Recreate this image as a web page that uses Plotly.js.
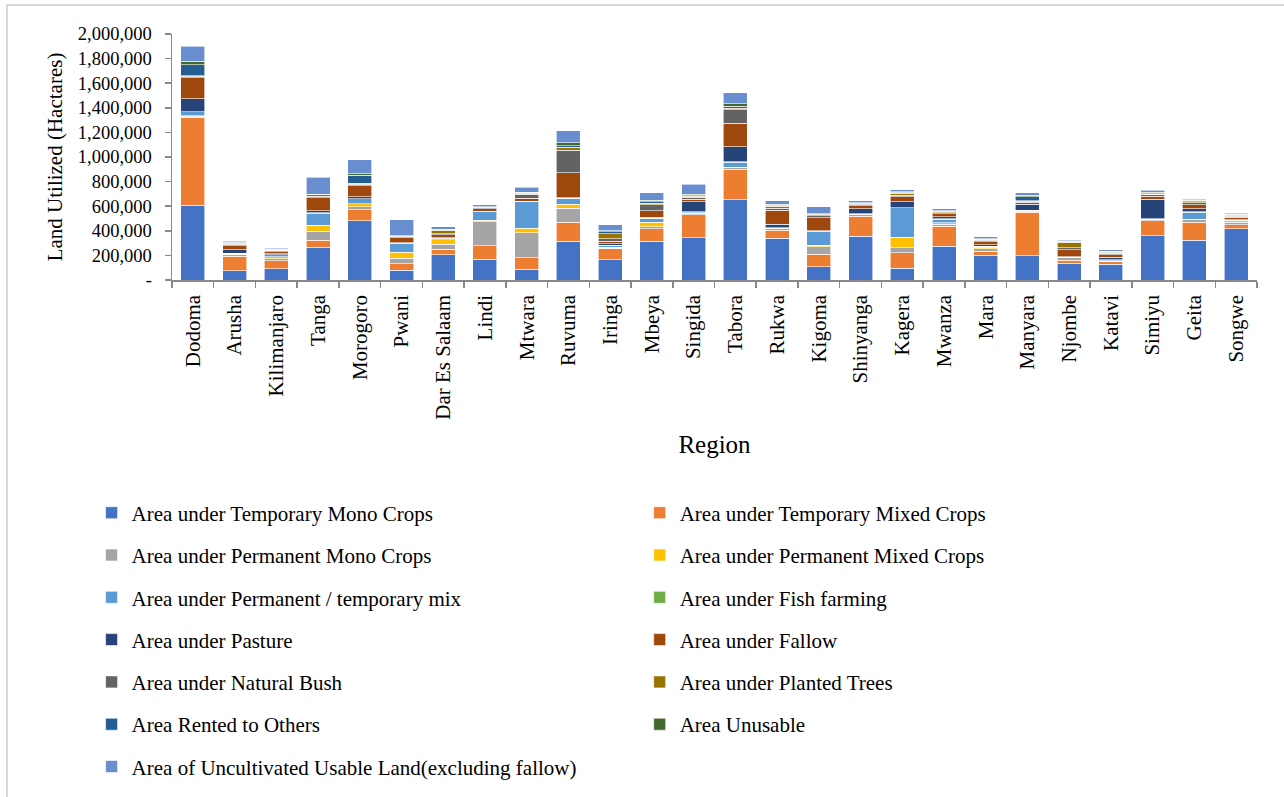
<!DOCTYPE html>
<html>
<head>
<meta charset="utf-8">
<script src="https://cdn.plot.ly/plotly-3.0.1.min.js"></script>
<style>
  html, body { margin: 0; padding: 0; background: #ffffff; overflow: hidden; }
  #wrap { position: relative; width: 1284px; height: 797px; }
  #chart { width: 1284px; height: 797px; }
  #frame { position: absolute; left: 6px; top: 4px; width: 1300px; height: 820px;
           border-left: 2px solid #d9d9d9; border-top: 2px solid #d9d9d9; pointer-events: none; }
</style>
</head>
<body>
<div id="wrap">
  <div id="chart"></div>
  <div id="frame"></div>
</div>
<script>
const regions = ["Dodoma", "Arusha", "Kilimanjaro", "Tanga", "Morogoro", "Pwani", "Dar Es Salaam", "Lindi", "Mtwara", "Ruvuma", "Iringa", "Mbeya", "Singida", "Tabora", "Rukwa", "Kigoma", "Shinyanga", "Kagera", "Mwanza", "Mara", "Manyara", "Njombe", "Katavi", "Simiyu", "Geita", "Songwe"];

const seriesNames = [
  "Area under Temporary Mono Crops",
  "Area under Temporary Mixed Crops",
  "Area under Permanent Mono Crops",
  "Area under Permanent Mixed Crops",
  "Area under Permanent / temporary mix",
  "Area under Fish farming",
  "Area under Pasture",
  "Area under Fallow",
  "Area under Natural Bush",
  "Area under Planted Trees",
  "Area Rented to Others",
  "Area Unusable",
  "Area of Uncultivated Usable Land(excluding fallow)"
];

const tempMono     = [608000, 76000, 92000, 268000, 481000, 81000, 205000, 170000, 86000, 314000, 165000, 316000, 343000, 651000, 341000, 108000, 357000, 97000, 276000, 203000, 197000, 138000, 127000, 359000, 322000, 416000];
const tempMixed    = [714000, 119000, 65000, 54000, 92000, 51000, 46000, 108000, 95000, 157000, 89000, 100000, 186000, 249000, 65000, 103000, 162000, 124000, 162000, 32000, 354000, 22000, 24000, 124000, 146000, 35000];
const permMono     = [10000, 11000, 16000, 76000, 24000, 46000, 38000, 195000, 203000, 114000, 3000, 16000, 14000, 14000, 11000, 59000, 14000, 41000, 16000, 19000, 8000, 19000, 3000, 8000, 22000, 19000];
const permMixed    = [5000, 3000, 16000, 46000, 24000, 46000, 38000, 14000, 38000, 32000, 8000, 38000, 3000, 3000, 3000, 11000, 3000, 84000, 11000, 11000, 3000, 3000, 3000, 3000, 3000, 11000];
const permTempMix  = [30000, 8000, 16000, 100000, 38000, 76000, 14000, 68000, 216000, 46000, 16000, 30000, 8000, 41000, 3000, 116000, 3000, 241000, 30000, 8000, 3000, 3000, 8000, 3000, 59000, 5000];
const fishFarming  = [2000, 1000, 1000, 2000, 2000, 1000, 1000, 1000, 1000, 2000, 1000, 2000, 1000, 2000, 1000, 2000, 1000, 2000, 2000, 1000, 1000, 1000, 1000, 1000, 2000, 1000];
const pasture      = [103000, 30000, 8000, 16000, 14000, 3000, 3000, 3000, 3000, 3000, 11000, 8000, 81000, 124000, 30000, 3000, 41000, 46000, 16000, 14000, 49000, 5000, 19000, 159000, 27000, 3000];
const fallow       = [173000, 32000, 16000, 108000, 92000, 38000, 22000, 19000, 22000, 205000, 22000, 54000, 19000, 189000, 114000, 105000, 24000, 41000, 24000, 24000, 19000, 57000, 22000, 24000, 32000, 22000];
const naturalBush  = [11000, 11000, 8000, 11000, 11000, 8000, 11000, 8000, 35000, 181000, 19000, 46000, 16000, 111000, 16000, 16000, 11000, 14000, 11000, 11000, 8000, 14000, 11000, 14000, 14000, 8000];
const plantedTrees = [5000, 8000, 5000, 11000, 8000, 3000, 27000, 3000, 8000, 27000, 43000, 14000, 11000, 11000, 14000, 11000, 8000, 14000, 5000, 5000, 3000, 46000, 8000, 3000, 8000, 8000];
const rented       = [89000, 8000, 3000, 3000, 65000, 3000, 3000, 3000, 3000, 11000, 14000, 14000, 3000, 16000, 11000, 3000, 3000, 11000, 8000, 3000, 30000, 3000, 3000, 3000, 11000, 3000];
const unusable     = [27000, 3000, 3000, 3000, 11000, 3000, 3000, 3000, 3000, 22000, 11000, 11000, 11000, 22000, 5000, 3000, 3000, 3000, 3000, 3000, 14000, 3000, 3000, 11000, 3000, 3000];
const uncultivated = [122000, 11000, 8000, 138000, 114000, 130000, 24000, 16000, 41000, 100000, 46000, 62000, 84000, 89000, 32000, 57000, 16000, 16000, 14000, 16000, 22000, 8000, 14000, 16000, 8000, 8000];

const seriesValues = [tempMono, tempMixed, permMono, permMixed, permTempMix, fishFarming, pasture, fallow, naturalBush, plantedTrees, rented, unusable, uncultivated];
const seriesColors = ["#4472C4", "#ED7D31", "#A5A5A5", "#FFC000", "#5B9BD5", "#70AD47", "#264478", "#9E480E", "#636363", "#997300", "#255E91", "#43682B", "#698ED0"];

const yTickVals = [0, 200000, 400000, 600000, 800000, 1000000, 1200000, 1400000, 1600000, 1800000, 2000000];
const yTickText = ["-", "200,000", "400,000", "600,000", "800,000", "1,000,000", "1,200,000", "1,400,000", "1,600,000", "1,800,000", "2,000,000"];

const FONT = "Liberation Serif, Times New Roman, serif";

const traces = seriesNames.map((name, i) => ({
  type: "bar",
  name: name,
  x: regions,
  y: seriesValues[i],
  marker: { color: seriesColors[i], line: { color: "rgba(255,255,255,0.75)", width: 0.8 } },
  legend: (i % 2 === 0) ? "legend" : "legend2",
  legendgroup: "g" + i,
  hoverinfo: "x+y+name"
}));

const L = 172.4, R = 1257.2, T = 34, B = 280.7;
const W = R - L, H = B - T;
const px = v => (v - L) / W;
const py = v => (B - v) / H;

const legendCommon = {
  orientation: "v",
  font: { family: FONT, size: 21, color: "#000000" },
  bgcolor: "rgba(0,0,0,0)",
  borderwidth: 0,
  tracegroupgap: 12,
  xanchor: "left",
  yanchor: "top",
  traceorder: "grouped"
};

const layout = {
  width: 1284,
  height: 797,
  margin: { l: L, r: 1284 - R, t: T, b: 797 - B, pad: 0 },
  paper_bgcolor: "#ffffff",
  plot_bgcolor: "#ffffff",
  barmode: "stack",
  bargap: 0.425,
  font: { family: FONT, color: "#000000" },
  xaxis: {
    type: "category",
    showgrid: false,
    showline: true,
    linecolor: "#898989",
    linewidth: 1.5,
    ticks: "outside",
    tickson: "boundaries",
    ticklen: 6,
    tickcolor: "#898989",
    tickwidth: 1.5,
    tickangle: -90,
    ticklabelstandoff: 5,
    tickfont: { family: FONT, size: 21, color: "#000000" },
    title: { text: "Region", font: { family: FONT, size: 25, color: "#000000" }, standoff: 17 },
    automargin: false,
    fixedrange: true
  },
  yaxis: {
    range: [0, 2000000],
    tickvals: yTickVals,
    ticktext: yTickText,
    showgrid: false,
    zeroline: false,
    showline: true,
    linecolor: "#898989",
    linewidth: 1.5,
    ticks: "outside",
    ticklen: 6,
    tickcolor: "#898989",
    tickwidth: 1.5,
    ticklabelstandoff: 9,
    tickfont: { family: FONT, size: 18.5, color: "#000000" },
    title: { text: "Land Utilized (Hactares)", font: { family: FONT, size: 21, color: "#000000" }, standoff: 9 },
    automargin: false,
    fixedrange: true
  },
  legend: Object.assign({}, legendCommon, { x: px(92), y: py(492) }),
  legend2: Object.assign({}, legendCommon, { x: px(640), y: py(492) }),
  showlegend: true
};

Plotly.newPlot("chart", traces, layout, { displayModeBar: false, staticPlot: true });
</script>
</body>
</html>
